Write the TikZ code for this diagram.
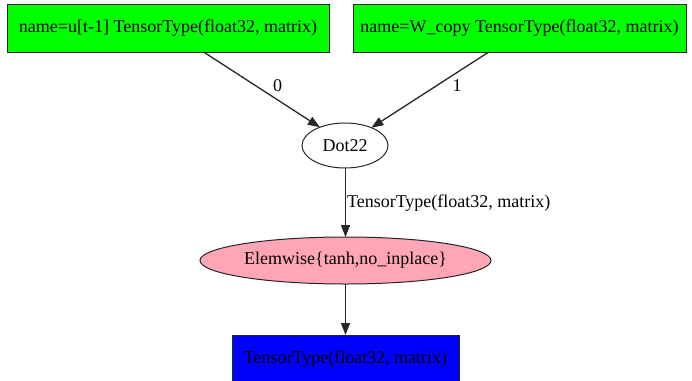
\documentclass[tikz,border=0pt]{standalone}
\usepackage{fontspec}
\setmainfont{Liberation Serif}
\usetikzlibrary{shapes.geometric,arrows.meta}
\definecolor{vargreen}{RGB}{0,255,0}
\definecolor{outblue}{RGB}{0,0,255}
\definecolor{oppink}{RGB}{255,166,182}
\begin{document}
\begin{tikzpicture}[x=1pt,y=-1pt,
  every node/.style={font=\fontsize{18}{20}\selectfont, outer sep=0pt, inner sep=0pt},
  varbox/.style={draw=black!85, line width=1pt, rectangle, minimum height=48pt},
  opnode/.style={draw=black!85, line width=1pt, ellipse},
  flow/.style={draw=black!85, line width=1.3pt, -{Triangle[length=12pt,width=9pt]}},
  edgelabel/.style={fill=none}]
\useasboundingbox (0,0) rectangle (692,380);
\clip (0,0) rectangle (692,380);

% inputs
\node[varbox, fill=vargreen, minimum width=322pt] (u) at (168,28)
  {name=u[t-1] TensorType(float32, matrix)};
\node[varbox, fill=vargreen, minimum width=333pt] (w) at (519.5,28)
  {name=W\_copy TensorType(float32, matrix)};

% apply nodes
\node[opnode, fill=white, minimum width=86pt, minimum height=45pt] (dot) at (345,145.5) {Dot22};
\node[opnode, fill=oppink, minimum width=291pt, minimum height=47pt] (elem) at (345.5,260.5)
  {Elemwise\{tanh,no\_inplace\}};

% output
\node[varbox, fill=outblue, minimum width=227pt, minimum height=48pt] (out) at (345.5,359)
  {TensorType(float32, matrix)};

% edges
\draw[flow] (u.-34.4) -- (dot.144.6);
\draw[flow] (w.-142.7) -- (dot.34.4);
\draw[flow] (dot.south -| elem.north) -- (elem.north);
\draw[flow] (elem.south) -- (out.north);

% edge labels
\node[edgelabel] (l0) at (277.5,86) {0};
\node[edgelabel] (l1) at (457,86) {1};
\node[edgelabel, anchor=west] (lt) at (347,203) {TensorType(float32, matrix)};
\end{tikzpicture}
\end{document}
